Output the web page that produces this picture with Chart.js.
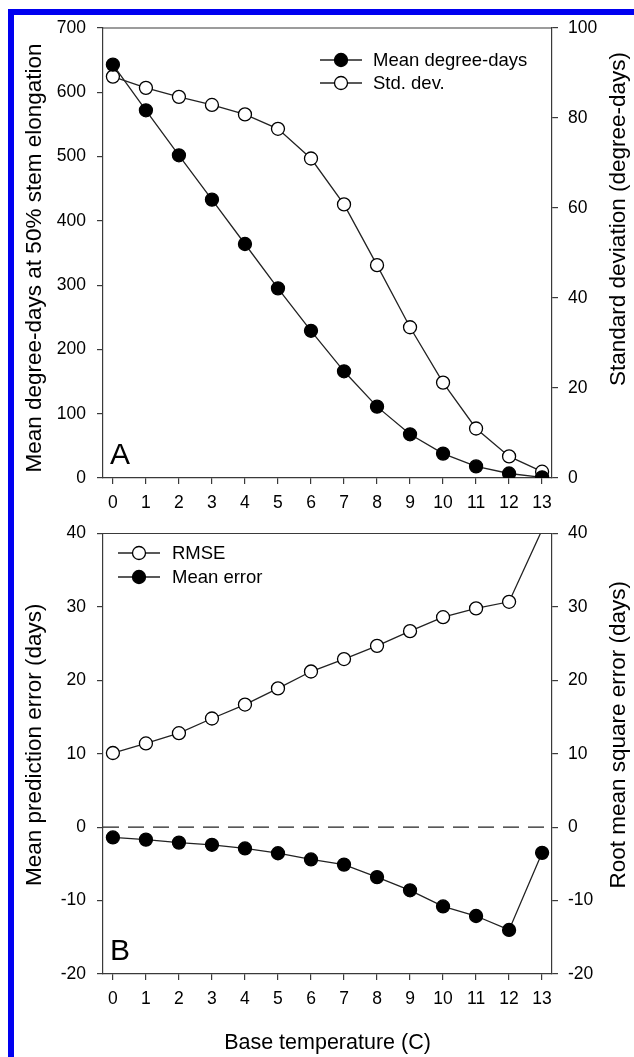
<!DOCTYPE html>
<html>
<head>
<meta charset="utf-8">
<script src="https://cdn.jsdelivr.net/npm/chart.js@4.4.0/dist/chart.umd.min.js"></script>
<style>
  html, body { margin: 0; padding: 0; background: #fff; }
  body { width: 634px; height: 1057px; position: relative; overflow: hidden; }
  #frame { position: absolute; left: 8px; top: 9px; right: -10px; bottom: -10px;
           border-left: 6px solid #0000f0; border-top: 6px solid #0000f0; }
  #wrapA { position: absolute; left: 0; top: 0; width: 634px; height: 520px; }
  #wrapB { position: absolute; left: 0; top: 512px; width: 634px; height: 545px; }
</style>
</head>
<body>
<div id="frame"></div>
<div id="wrapA"><canvas id="panelA" width="634" height="520"></canvas></div>
<div id="wrapB"><canvas id="panelB" width="634" height="545"></canvas></div>
<script>
// base temperature (C), shared x values
const baseTemps = [0, 1, 2, 3, 4, 5, 6, 7, 8, 9, 10, 11, 12, 13];

// panel A
const meanDegreeDays = [643, 572, 502, 433, 364, 295, 229, 166, 111, 68, 38, 18, 7, 1];
const stdDevDegreeDays = [89.2, 86.7, 84.7, 82.9, 80.8, 77.6, 71.0, 60.8, 47.3, 33.5, 21.2, 11.0, 4.8, 1.4];

// panel B
const rmseDays = [10.1, 11.4, 12.8, 14.8, 16.7, 18.9, 21.2, 22.9, 24.7, 26.7, 28.6, 29.8, 30.7, 40.5];
const meanErrorDays = [-1.4, -1.7, -2.1, -2.4, -2.9, -3.55, -4.4, -5.1, -6.8, -8.6, -10.8, -12.1, -14.0, -3.5];

// tick labels
const xTicks = [0, 1, 2, 3, 4, 5, 6, 7, 8, 9, 10, 11, 12, 13];
const degreeDayTicks = [0, 100, 200, 300, 400, 500, 600, 700];
const stdDevTicks = [0, 20, 40, 60, 80, 100];
const errorTicks = [-20, -10, 0, 10, 20, 30, 40];

const FONT = '"Liberation Sans", Arial, Helvetica, sans-serif';
const axisColor = '#3a3a3a';
const textColor = '#000';
const lineColor = '#222';
const markerRadius = 6.5;

Chart.defaults.font.family = FONT;
Chart.defaults.color = textColor;

function points(ys) {
    return baseTemps.map((t, i) => ({ x: t, y: ys[i] }));
}

function series(label, ys, filled, axis) {
    return {
        label: label,
        data: points(ys),
        yAxisID: axis,
        borderColor: lineColor,
        borderWidth: 1.3,
        tension: 0,
        pointRadius: markerRadius,
        pointHoverRadius: markerRadius,
        pointBackgroundColor: filled ? '#000' : '#fff',
        pointBorderColor: '#000',
        pointBorderWidth: 1.3
    };
}

function yScale(ticks, position, width, tickPad) {
    return {
        type: 'linear',
        position: position,
        min: ticks[0],
        max: ticks[ticks.length - 1],
        afterBuildTicks: s => { s.ticks = ticks.map(v => ({ value: v })); },
        afterFit: s => { s.width = width; },
        ticks: { font: { size: 17.5 }, color: textColor, padding: tickPad },
        grid: { drawOnChartArea: false, drawTicks: true, tickLength: 6, color: axisColor, lineWidth: 1.2 },
        border: { display: true, color: axisColor, width: 1.2 }
    };
}

function xScale(height) {
    return {
        type: 'linear',
        min: -0.3,
        max: 13.3,
        afterBuildTicks: s => { s.ticks = xTicks.map(v => ({ value: v })); },
        afterFit: s => { s.height = height; },
        ticks: { font: { size: 17.5 }, color: textColor, padding: 9, maxRotation: 0 },
        grid: { drawOnChartArea: false, drawTicks: true, tickLength: 6, color: axisColor, lineWidth: 1.2 },
        border: { display: true, color: axisColor, width: 1.2 }
    };
}

function vText(ctx, text, x, y) {
    ctx.save();
    ctx.translate(x, y);
    ctx.rotate(-Math.PI / 2);
    ctx.textAlign = 'center';
    ctx.textBaseline = 'middle';
    ctx.fillText(text, 0, 0);
    ctx.restore();
}

// box top, panel letter, legend and axis titles
const panelDecor = {
    id: 'panelDecor',
    afterDraw(chart, args, opts) {
        const ctx = chart.ctx;
        const a = chart.chartArea;
        ctx.save();
        ctx.strokeStyle = axisColor;
        ctx.lineWidth = 1.2;
        ctx.beginPath();
        ctx.moveTo(a.left, a.top);
        ctx.lineTo(a.right, a.top);
        ctx.stroke();

        ctx.fillStyle = textColor;
        ctx.font = '30px ' + FONT;
        ctx.textAlign = 'left';
        ctx.textBaseline = 'alphabetic';
        ctx.fillText(opts.letter, a.left + 7, a.bottom - 14);

        const lg = opts.legend;
        ctx.font = '18.5px ' + FONT;
        lg.items.forEach((di, row) => {
            const ds = chart.data.datasets[di];
            const y = lg.y + row * lg.rowGap;
            ctx.strokeStyle = ds.borderColor;
            ctx.lineWidth = ds.borderWidth;
            ctx.beginPath();
            ctx.moveTo(lg.x, y);
            ctx.lineTo(lg.x + lg.lineLen, y);
            ctx.stroke();
            ctx.beginPath();
            ctx.arc(lg.x + lg.lineLen / 2, y, markerRadius, 0, Math.PI * 2);
            ctx.fillStyle = ds.pointBackgroundColor;
            ctx.fill();
            ctx.lineWidth = ds.pointBorderWidth;
            ctx.strokeStyle = ds.pointBorderColor;
            ctx.stroke();
            ctx.fillStyle = textColor;
            ctx.textBaseline = 'middle';
            ctx.fillText(ds.label, lg.x + lg.lineLen + lg.gap, y + 1);
        });

        ctx.font = '22.5px ' + FONT;
        ctx.fillStyle = textColor;
        const mid = (a.top + a.bottom) / 2;
        vText(ctx, opts.leftTitle, 35, mid + opts.leftShift);
        vText(ctx, opts.rightTitle, 619, mid + opts.rightShift);
        if (opts.bottomTitle) {
            ctx.font = '21.5px ' + FONT;
            ctx.textAlign = 'center';
            ctx.textBaseline = 'middle';
            ctx.fillText(opts.bottomTitle, (a.left + a.right) / 2, opts.bottomY);
        }
        ctx.restore();
    }
};

new Chart(document.getElementById('panelA').getContext('2d'), {
    type: 'line',
    data: {
        datasets: [
            series('Mean degree-days', meanDegreeDays, true, 'y'),
            series('Std. dev.', stdDevDegreeDays, false, 'y2')
        ]
    },
    options: {
        responsive: false,
        animation: false,
        events: [],
        layout: { padding: { top: 28, left: 0, right: 0, bottom: 0 } },
        scales: {
            x: xScale(42),
            y: yScale(degreeDayTicks, 'left', 103, 11),
            y2: yScale(stdDevTicks, 'right', 82, 10)
        },
        plugins: {
            legend: { display: false },
            tooltip: { enabled: false },
            panelDecor: {
                letter: 'A',
                legend: { items: [0, 1], x: 320, y: 60, rowGap: 23, lineLen: 42, gap: 11 },
                leftTitle: 'Mean degree-days at 50% stem elongation',
                rightTitle: 'Standard deviation (degree-days)',
                leftShift: 5,
                rightShift: -34
            }
        }
    },
    plugins: [panelDecor]
});

const rmse = series('RMSE', rmseDays, false, 'y2');
rmse.clip = 0;
rmse.pointRadius = c => (c.raw && c.raw.y > errorTicks[errorTicks.length - 1]) ? 0 : markerRadius;

new Chart(document.getElementById('panelB').getContext('2d'), {
    type: 'line',
    data: {
        datasets: [
            rmse,
            series('Mean error', meanErrorDays, true, 'y'),
            {
                label: 'zero',
                data: [{ x: -0.3, y: 0 }, { x: 13.3, y: 0 }],
                yAxisID: 'y',
                borderColor: lineColor,
                borderWidth: 1.3,
                borderDash: [16, 9],
                pointRadius: 0
            }
        ]
    },
    options: {
        responsive: false,
        animation: false,
        events: [],
        layout: { padding: { top: 14, left: 0, right: 0, bottom: 0 } },
        scales: {
            x: xScale(83),
            y: yScale(errorTicks, 'left', 103, 11),
            y2: yScale(errorTicks, 'right', 82, 10)
        },
        plugins: {
            legend: { display: false },
            tooltip: { enabled: false },
            panelDecor: {
                letter: 'B',
                legend: { items: [0, 1], x: 118, y: 41, rowGap: 24, lineLen: 42, gap: 12 },
                leftTitle: 'Mean prediction error (days)',
                rightTitle: 'Root mean square error (days)',
                leftShift: -9,
                rightShift: -19,
                bottomTitle: 'Base temperature (C)',
                bottomY: 531
            }
        }
    },
    plugins: [panelDecor]
});
</script>
</body>
</html>
